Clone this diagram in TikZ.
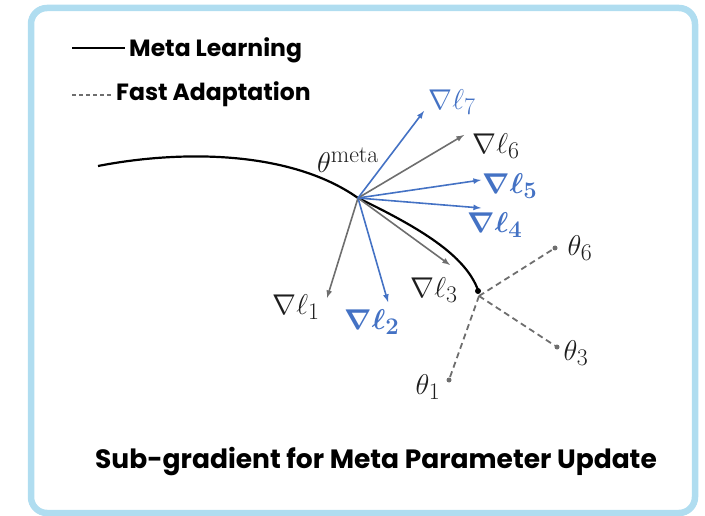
\documentclass[tikz,border=0pt]{standalone}
\usepackage{fontspec}
\usepackage{amsmath}
\usepackage{tikz}
\usetikzlibrary{positioning}
\usetikzlibrary{calc}
\newfontfamily\legendfont{Poppins}

\definecolor{framblue}{RGB}{176,221,240}
\definecolor{gradblue}{RGB}{68,114,196}
\definecolor{gradgray}{RGB}{110,110,110}
\definecolor{labblack}{RGB}{30,30,30}

\begin{document}
\begin{tikzpicture}[x=1pt,y=-1pt]
 \useasboundingbox (0,0) rectangle (705,516);

\tikzstyle{gblue}=[line width=1.6pt,->,>=latex,draw=gradblue]
\tikzstyle{ggray}=[line width=1.6pt,->,>=latex,draw=gradgray]
\tikzstyle{fast}=[line width=1.8pt,dashed,dash pattern=on 6pt off 4pt,draw=gradgray]
\tikzstyle{lbl}=[inner sep=0pt,text=labblack,font=\fontsize{24.88}{28}\selectfont,scale=1.15,transform shape]
\tikzstyle{legtxt}=[inner sep=0pt,anchor=west,font=\legendfont\bfseries\fontsize{23.5}{26}\selectfont]

   %frame
    \draw[framblue,line width=6.5pt,rounded corners=16pt] (31,8) rectangle (695,513);

   %legend
    \coordinate (leg1a) at (72,48);
    \coordinate (leg1b) at (125,48);
    \draw[line width=2pt] (leg1a) -- (leg1b);
    \node (legmeta) [legtxt] at (129,50) {Meta Learning};
    \coordinate (leg2a) at (72,95);
    \coordinate (leg2b) at (113,95);
    \draw[gradgray,line width=1.2pt,dash pattern=on 4pt off 3pt] (leg2a) -- (leg2b);
    \node (legfast) [legtxt] at (116,94) {Fast Adaptation};

   %meta learning path
    \coordinate (start) at (98,166);
    \coordinate (meta) at (358,198);
    \coordinate (theta) at (479,296);
    \draw[line width=2.2pt] (start) .. controls (180,150) and (290,150) .. (meta);
    \draw[line width=2.2pt] (meta) .. controls (420,228) and (465,255) .. (478,290);
    \fill (478,291) circle (3);
    \node (metalbl) [lbl] at (348,160) {$\theta^{\mathrm{meta}}$};

   %sub-gradients
    \coordinate (g1) at (327,298);
    \coordinate (g2) at (388,302);
    \coordinate (g3) at (450,265);
    \coordinate (g4) at (481,208);
    \coordinate (g5) at (481,180);
    \coordinate (g6) at (464,135);
    \coordinate (g7) at (424,111);
    \draw[ggray] (meta) -- (g1);
    \draw[gblue] (meta) -- (g2);
    \draw[ggray] (meta) -- (g3);
    \draw[gblue] (meta) -- (g4);
    \draw[gblue] (meta) -- (g5);
    \draw[ggray] (meta) -- (g6);
    \draw[gblue] (meta) -- (g7);
    \node (l1) [lbl] at (296,307) {$\nabla\ell_1$};
    \node (l2) [lbl,text=gradblue] at (372,322) {$\boldsymbol{\nabla\ell_2}$};
    \node (l3) [lbl] at (434,290) {$\nabla\ell_3$};
    \node (l4) [lbl,text=gradblue] at (495,225) {$\boldsymbol{\nabla\ell_4}$};
    \node (l5) [lbl,text=gradblue] at (510,186) {$\boldsymbol{\nabla\ell_5}$};
    \node (l6) [lbl] at (496,146) {$\nabla\ell_6$};
    \node (l7) [lbl,text=gradblue] at (452,102) {$\nabla\ell_7$};

   %fast adaptation
    \node (t1) [fill=gradgray,circle,inner sep=0pt,minimum size=5pt] at (449,380) {};
    \node (t3) [fill=gradgray,circle,inner sep=0pt,minimum size=5pt] at (557,347) {};
    \node (t6) [fill=gradgray,circle,inner sep=0pt,minimum size=5pt] at (555,248) {};
    \draw[fast] (theta) -- (t1);
    \draw[fast] (theta) -- (t3);
    \draw[fast] (theta) -- (t6);
    \node (t1lbl) [lbl] at (428,387) {$\theta_1$};
    \node (t3lbl) [lbl] at (576,353) {$\theta_3$};
    \node (t6lbl) [lbl] at (580,248) {$\theta_6$};

   %caption
    \node (title) [inner sep=0pt,font=\legendfont\bfseries\fontsize{26.5}{30}\selectfont] at (376,462) {Sub-gradient for Meta Parameter Update};
\end{tikzpicture}
\end{document}
